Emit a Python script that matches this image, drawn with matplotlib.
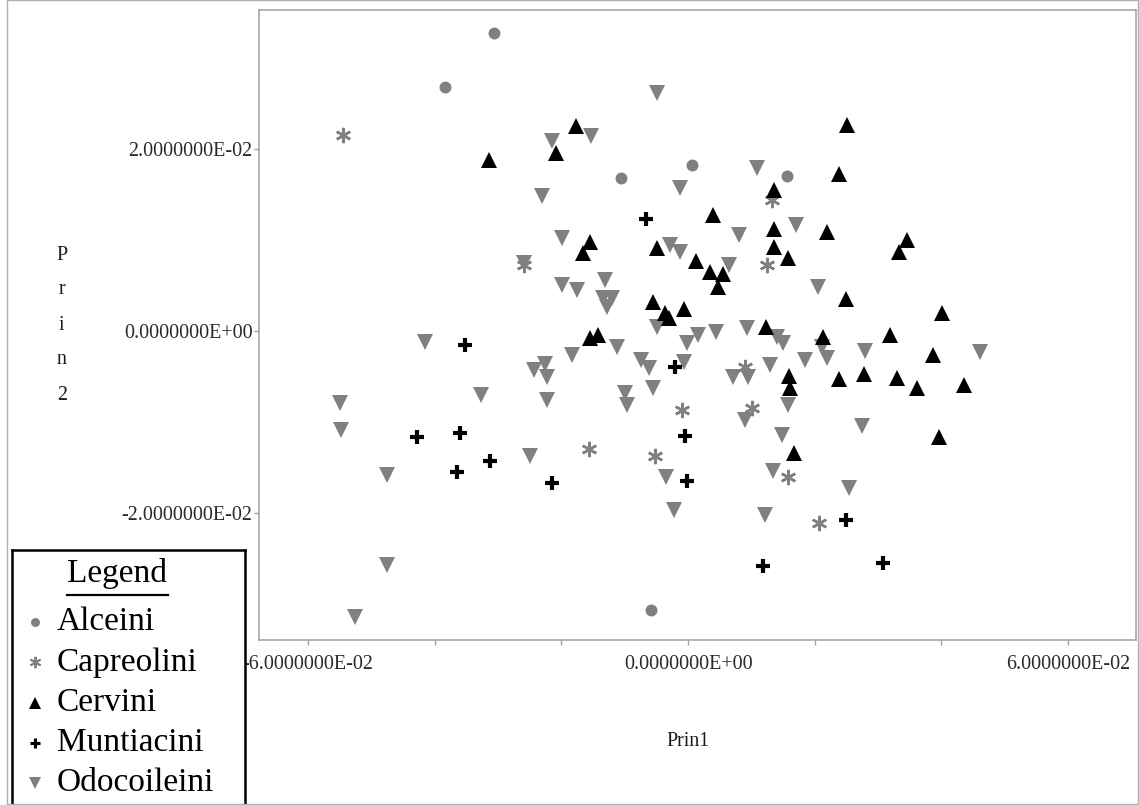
import matplotlib
matplotlib.use("Agg")
import matplotlib.pyplot as plt
from matplotlib.ticker import FixedLocator, FuncFormatter
from matplotlib.lines import Line2D

plt.rcParams['font.family'] = ['Liberation Serif', 'DejaVu Serif']

# ---------------- data (Prin1, Prin2) ----------------
alceini_x = [-0.03063, -0.03842, 0.00068, -0.01053, 0.01568, -0.00589]
alceini_y = [0.03272, 0.02681, 0.01828, 0.01681, 0.01700, -0.03066]

capreolini_x = [-0.05448, -0.02594, 0.01322, 0.01243, 0.00900, -0.00090,
                0.01015, -0.01563, -0.00521, 0.01584, 0.02068]
capreolini_y = [0.02154, 0.00725, 0.01443, 0.00725, -0.00392, -0.00868,
                -0.00850, -0.01300, -0.01374, -0.01601, -0.02113]

cervini_x = [-0.03142, -0.01773, -0.02084, 0.01358, 0.02389, 0.02511, 0.00400,
             0.01358, 0.02200, -0.01547, -0.01653, -0.00494, 0.01358, 0.01584,
             0.00122, 0.00347, 0.00557, 0.00469, 0.02487, -0.00548, -0.00363,
             -0.00295, -0.00058, 0.01232, 0.02127, -0.01547, -0.01416, 0.01600,
             0.01611, 0.02384, 0.01679, 0.03463, 0.03327, 0.04006, 0.03190,
             0.03873, 0.02779, 0.03305, 0.03621, 0.04358, 0.03963]
cervini_y = [0.01883, 0.02250, 0.01956, 0.01553, 0.01729, 0.02267, 0.01278,
             0.01118, 0.01091, 0.00981, 0.00854, 0.00909, 0.00926, 0.00806,
             0.00773, 0.00645, 0.00626, 0.00487, 0.00355, 0.00322, 0.00195,
             0.00140, 0.00238, 0.00047, -0.00069, -0.00080, -0.00044, -0.00495,
             -0.00630, -0.00528, -0.01337, 0.01000, 0.00865, 0.00201, -0.00044,
             -0.00264, -0.00473, -0.00520, -0.00630, -0.00593, -0.01165]

muntiacini_x = [-0.00663, -0.03526, -0.04274, -0.03595, -0.03643, -0.03131,
                -0.02152, -0.00205, -0.00047, -0.00021, 0.02487, 0.01189, 0.03084]
muntiacini_y = [0.01231, -0.00154, -0.01165, -0.01121, -0.01553, -0.01425,
                -0.01674, -0.00392, -0.01154, -0.01645, -0.02074, -0.02583, -0.02553]

odocoileini_x = [-0.02143, -0.01536, -0.02305, -0.00494, 0.01085, -0.00126,
                 0.01701, -0.01985, -0.00284, -0.00126, 0.00805, 0.00647,
                 -0.02594, -0.01994, -0.01748, -0.01311, -0.01337, -0.01205,
                 -0.01284, 0.02058, -0.00494, 0.00163, 0.00437, -0.00021,
                 0.00927, 0.01401, 0.01505, 0.02111, 0.02190, 0.01847,
                 -0.01126, -0.01836, -0.04158, -0.02432, -0.02263, -0.02226,
                 -0.03264, -0.02231, -0.05500, -0.05474, -0.00747, -0.00611,
                 -0.00063, -0.00995, -0.00958, -0.00557, 0.00715, 0.00952,
                 0.01295, 0.01584, 0.00900, 0.01489, -0.04748, -0.02500,
                 -0.04748, -0.05263, -0.00352, -0.00216, 0.01337, 0.01216,
                 0.02534, 0.02795, 0.04600, 0.02752]
odocoileini_y = [0.02085, 0.02140, 0.01480, 0.02616, 0.01791, 0.01572,
                 0.01165, 0.01019, 0.00945, 0.00871, 0.01055, 0.00725,
                 0.00747, 0.00506, 0.00451, 0.00560, 0.00359, 0.00359,
                 0.00267, 0.00487, 0.00047, -0.00044, -0.00014, -0.00135,
                 0.00036, -0.00063, -0.00135, -0.00173, -0.00300, -0.00319,
                 -0.00173, -0.00264, -0.00118, -0.00429, -0.00363, -0.00502,
                 -0.00703, -0.00758, -0.00788, -0.01088, -0.00319, -0.00410,
                 -0.00337, -0.00685, -0.00813, -0.00630, -0.00502, -0.00502,
                 -0.00374, -0.00813, -0.00978, -0.01148, -0.01582, -0.01374,
                 -0.02571, -0.03146, -0.01601, -0.01967, -0.01538, -0.02022,
                 -0.01729, -0.00216, -0.00227, -0.01044]

series_names = ["Alceini", "Capreolini", "Cervini", "Muntiacini", "Odocoileini"]
x_major_ticks = [-0.06, 0.0, 0.06]
x_minor_ticks = [-0.04, -0.02, 0.02, 0.04]
y_ticks = [-0.02, 0.0, 0.02]

# ---------------- styles ----------------
GREY = '#808080'
styles = {
    "Alceini":     dict(marker='o', color=GREY, ms=8.6, mew=0),
    "Capreolini":  dict(marker=(6, 2, 0), color=GREY, ms=11, mew=1.8),
    "Cervini":     dict(marker='^', color='black', ms=11.5, mew=0),
    "Muntiacini":  dict(marker='+', color='black', ms=10.5, mew=3.0),
    "Odocoileini": dict(marker='v', color=GREY, ms=11.2, mew=0),
}
data = {
    "Alceini": (alceini_x, alceini_y),
    "Capreolini": (capreolini_x, capreolini_y),
    "Cervini": (cervini_x, cervini_y),
    "Muntiacini": (muntiacini_x, muntiacini_y),
    "Odocoileini": (odocoileini_x, odocoileini_y),
}

W, H = 1139, 805
fig = plt.figure(figsize=(W / 100, H / 100), dpi=100)

def fx(px):
    return px / W

def fy(py):
    return 1 - py / H

# main axes
L, R, T, B = 258.5, 1136, 9.7, 640
ax = fig.add_axes([fx(L), fy(B), fx(R) - fx(L), fy(T) - fy(B)])
ax.set_xlim(-0.0678, 0.0707)
ax.set_ylim(-0.03396, 0.0353)

for name in ["Odocoileini", "Alceini", "Capreolini", "Muntiacini", "Cervini"]:
    st = styles[name]
    xs, ys = data[name]
    ax.plot(xs, ys, linestyle='none', marker=st['marker'], color=st['color'],
            markersize=st['ms'], markeredgewidth=st['mew'],
            markeredgecolor=st['color'], markerfacecolor=st['color'])

for sp in ax.spines.values():
    sp.set_color('#a0a0a0')
    sp.set_linewidth(1.1)

fmt = FuncFormatter(lambda v, p: '%.7E' % (0.0 if abs(v) < 1e-12 else v))
ax.xaxis.set_major_locator(FixedLocator(x_major_ticks))
ax.xaxis.set_minor_locator(FixedLocator(x_minor_ticks))
ax.xaxis.set_major_formatter(fmt)
ax.yaxis.set_major_locator(FixedLocator(y_ticks))
ax.yaxis.set_major_formatter(fmt)
ax.tick_params(axis='both', which='both', direction='out', color='#a0a0a0',
               length=3.8, width=1.0, labelsize=14.4, labelcolor='#2a2a2a')
ax.tick_params(axis='x', which='major', pad=7)
ax.tick_params(axis='y', which='major', pad=0.5)

# axis labels
fig.text(fx(688), fy(741), "Prin1", ha='center', va='center', fontsize=14.4,
         color='#1a1a1a')
for i, ch in enumerate("Prin2"):
    fig.text(fx(61.7), fy(255 + i * 35), ch, ha='center', va='center',
             fontsize=14.4, color='#1a1a1a')

# outer light frame
fig.patches.append(matplotlib.patches.Rectangle(
    (fx(7), fy(804)), fx(1138) - fx(7), fy(0.5) - fy(804),
    transform=fig.transFigure, fill=False, edgecolor='#b0b0b0', linewidth=1.0))

# legend box (drawn manually, bottom edge runs off the figure)
lx0, lx1, ly0, ly1 = 11.7, 245, 550, 815
lax = fig.add_axes([fx(lx0), fy(ly1), fx(lx1) - fx(lx0), fy(ly0) - fy(ly1)])
lax.set_xlim(lx0, lx1)
lax.set_ylim(ly1, ly0)
lax.set_xticks([])
lax.set_yticks([])
lax.set_facecolor('white')
for sp in lax.spines.values():
    sp.set_color('black')
    sp.set_linewidth(1.8)
lax.text(117.5, 573, "Legend", ha='center', va='center', fontsize=24)
lax.add_line(Line2D([67, 168], [595, 595], color='black', linewidth=1.6))
for i, name in enumerate(series_names):
    yrow = 622 + i * 40.3
    st = styles[name]
    lax.plot([35], [yrow], linestyle='none', marker=st['marker'],
             color=st['color'], markersize=st['ms'] * 0.75,
             markeredgewidth=st['mew'] * 0.75)
    lax.text(57, yrow, name, ha='left', va='center', fontsize=24)

fig.savefig("out.png", dpi=100)
